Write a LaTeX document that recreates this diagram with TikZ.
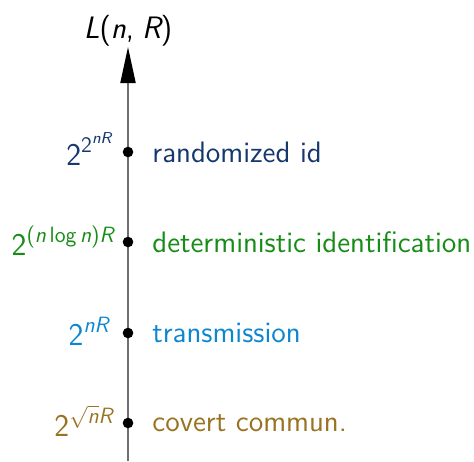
\documentclass[tikz,border=0pt]{standalone}
\usepackage{amsmath}
\usetikzlibrary{arrows.meta}
\definecolor{cRand}{HTML}{17386E}
\definecolor{cDet}{HTML}{178C17}
\definecolor{cTrans}{HTML}{0D86D0}
\definecolor{cCov}{HTML}{997321}
\definecolor{cAxis}{HTML}{707070}
\newcommand\vi[1]{\text{\sffamily\itshape #1}}
\newcommand\vu[1]{\text{\sffamily\upshape #1}}
\begin{document}
\begin{tikzpicture}[x=0.5pt,y=-0.5pt,
  every node/.style={font=\fontsize{14.8}{17}\selectfont\sffamily, inner sep=0pt},
  axisline/.style={draw=cAxis, line width=1pt},
  tickdot/.style={circle, fill=black, minimum size=5.3pt, inner sep=0pt},
  rlabel/.style={anchor=west},
  llabel/.style={anchor=base east, font=\fontsize{15.8}{18}\selectfont\sffamily}]
\useasboundingbox (0,0) rectangle (474,461);
\coordinate (bot) at (128,461);
\coordinate (top) at (128,47);
\node[anchor=base] (title) at (128,38) {\fontsize{15.5}{18}\selectfont$\vi{L}\vu{(}\vi{n}\vu{,}\;\vi{R}\vu{)}$};
\draw[axisline, -{Triangle[length=18pt,width=7.5pt,fill=black,color=black]}] (bot) -- (top);
% dots
\node[tickdot] (d1) at (128,152) {};
\node[tickdot] (d2) at (128,242) {};
\node[tickdot] (d3) at (128,333) {};
\node[tickdot] (d4) at (128,423) {};
% right labels
\node[rlabel, text=cRand] (r1) at (152,152) {randomized id};
\node[rlabel, text=cDet] (r2) at (152,242) {deterministic identification};
\node[rlabel, text=cTrans] (r3) at (152,333) {transmission};
\node[rlabel, text=cCov] (r4) at (152,423) {covert commun.};
% left labels
\node[llabel, text=cRand] (l1) at (114,165) {$\vu{2}^{\vu{2}^{\vi{nR}}}$};
\node[llabel, text=cDet] (l2) at (115,255) {$\vu{2}^{\vu{(}\vi{n}\,\vu{log}\,\vi{n}\vu{)}\vi{R}}$};
\node[llabel, text=cTrans] (l3) at (110,345) {$\vu{2}^{\vi{nR}}$};
\node[llabel, text=cCov] (l4) at (114,436) {$\vu{2}^{\sqrt{\vi{n}}\vi{R}}$};
\end{tikzpicture}
\end{document}
